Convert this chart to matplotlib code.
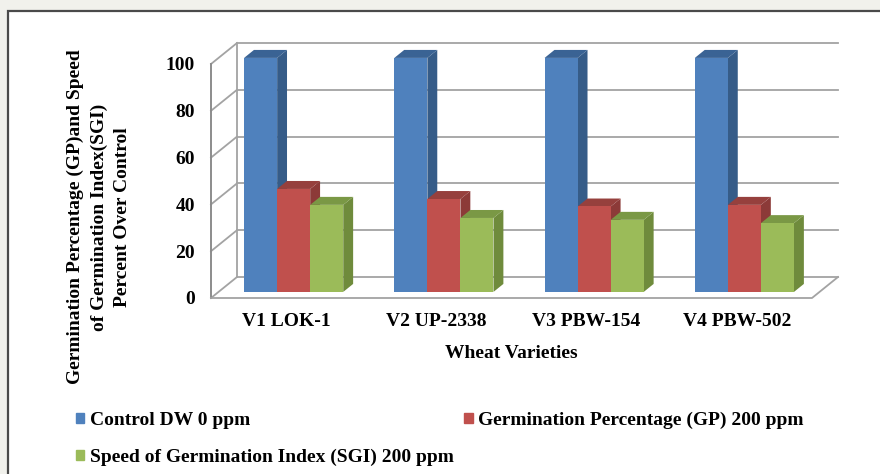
import matplotlib.pyplot as plt
from matplotlib.patches import Polygon, Patch, Rectangle

# data
varieties = ["V1 LOK-1", "V2 UP-2338", "V3 PBW-154", "V4 PBW-502"]
control = [100, 100, 100, 100]
gp = [44, 39.7, 36.5, 37.2]
sgi = [37.2, 31.6, 30.8, 29.4]
series_names = ["Control DW 0 ppm", "Germination Percentage (GP) 200 ppm",
                "Speed of Germination Index (SGI) 200 ppm"]
yticks = [0, 20, 40, 60, 80, 100]

# front, side, top colours for each series
colors = [("#4F81BD", "#365C88", "#3A6394"),
          ("#C0504D", "#8C3A38", "#96403D"),
          ("#9BBB59", "#6F8B3C", "#7A9845")]

plt.rcParams['font.family'] = ['Liberation Serif', 'DejaVu Serif']
plt.rcParams['font.weight'] = 'bold'

fig = plt.figure(figsize=(8.8, 4.74), dpi=100, facecolor="#f1f1ec")
# white chart panel with border, behind the axes
fig.patches.append(Rectangle((8 / 880, -0.1), 1.0, 1 - 10.5 / 474 + 0.1,
                             transform=fig.transFigure, fc="white",
                             ec="#4a4a4a", lw=1.6, zorder=-5))

W, H = 880, 474
ax = fig.add_axes([211 / W, 1 - 298 / H, 629 / W, 255 / H])
ax.set_facecolor("none")
ax.set_xlim(0, 629 / 150.25)
ax.set_ylim(0, 255 / 2.34)
for s in ax.spines.values():
    s.set_visible(False)

# depth of the 3d box in data units
DX, DY = 26 / 150.25, 21 / 2.34
d0, d1 = 0.29, 0.67
n = len(varieties)

grid_c = "#a3a3a3"
for v in yticks:
    ax.plot([0, DX], [v, v + DY], color=grid_c, lw=1.3, clip_on=False, zorder=1)
    ax.plot([DX, n + DX], [v + DY, v + DY], color=grid_c, lw=1.3, clip_on=False, zorder=1)
ax.plot([DX, DX], [DY, 100 + DY], color=grid_c, lw=1.3, clip_on=False, zorder=1)
ax.plot([0, 0], [0, 100], color="#8c8c8c", lw=1.4, clip_on=False, zorder=1)
ax.plot([0, n, n + DX], [0, 0, DY], color="#a3a3a3", lw=1.3, clip_on=False, zorder=1)

# bars
w = 0.22
ddx, ddy = (d1 - d0) * DX, (d1 - d0) * DY
base = d0 * DY
for i in range(n):
    for k, vals in enumerate([control, gp, sgi]):
        h = vals[i]
        fc, sc, tc = colors[k]
        x0 = i + 0.5 + (k - 1) * w - w / 2 + d0 * DX
        z = 3 + k * 3
        ax.add_patch(Polygon([(x0 + w, base), (x0 + w + ddx, base + ddy),
                              (x0 + w + ddx, base + h + ddy), (x0 + w, base + h)],
                             closed=True, fc=sc, ec="none", zorder=z))
        ax.add_patch(Polygon([(x0, base + h), (x0 + ddx, base + h + ddy),
                              (x0 + w + ddx, base + h + ddy), (x0 + w, base + h)],
                             closed=True, fc=tc, ec="none", zorder=z + 1))
        ax.bar(x0, h, width=w, bottom=base, align="edge", color=fc,
               zorder=z + 2)

ax.set_yticks(yticks)
ax.set_yticklabels([str(t) for t in yticks], fontsize=14, fontweight="bold")
ax.tick_params(axis="y", length=0, pad=11.5)
ax.set_xticks([i + 0.5 for i in range(n)])
ax.set_xticklabels(varieties, fontsize=14, fontweight="bold")
ax.tick_params(axis="x", length=0, pad=11)

ax.set_xlabel("Wheat Varieties", fontsize=14, fontweight="bold")
ax.xaxis.set_label_coords((511 - 211) / 629, (298 - 353) / 255)
ax.xaxis.label.set_va("center")

ax.set_ylabel("Germination Percentage (GP)and Speed\nof Germination Index(SGI)\nPercent Over Control",
              fontsize=14, fontweight="bold", linespacing=1.5)
ax.yaxis.set_label_coords((99 - 211) / 629, (298 - 217) / 255)
ax.yaxis.label.set_va("center")
ax.yaxis.label.set_ha("center")

handles = [Patch(color=colors[0][0]), Patch(color=colors[2][0]), Patch(color=colors[1][0])]
labels = [series_names[0], series_names[2], series_names[1]]
fig.legend(handles, labels, ncol=2, loc="upper left",
           bbox_to_anchor=(66 / W, 1 - 402 / H), frameon=False,
           handlelength=0.45, handleheight=0.45, handletextpad=0.3,
           columnspacing=0.5, labelspacing=1.0, borderpad=0,
           prop={"weight": "bold", "size": 14})

fig.savefig("out.png", dpi=100, facecolor=fig.get_facecolor())
